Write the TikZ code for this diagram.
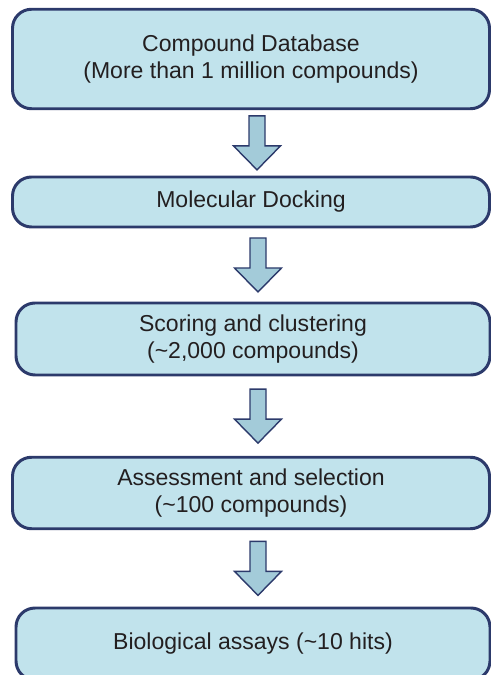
\documentclass[tikz,border=0pt]{standalone}
\usepackage{fontspec}
\setmainfont{Liberation Sans}
\usetikzlibrary{calc}
\definecolor{boxfill}{HTML}{C1E3EC}
\definecolor{boxline}{HTML}{2C3A6B}
\definecolor{arrowfill}{HTML}{A3CBD9}
\definecolor{textgray}{HTML}{231F20}
\begin{document}
\begin{tikzpicture}[
        stagebox/.style={draw=boxline, fill=boxfill, line width=1.7pt, rounded corners=0.38cm,
            align=center, text=textgray, inner sep=0pt,
            font=\fontsize{13.1pt}{15.4pt}\selectfont},
        blockarrow/.pic={
            \draw[draw=boxline, fill=arrowfill, line width=0.8pt, line join=miter]
                (-0.16,0.54) -- (-0.16,-0.06) -- (-0.47,-0.06) -- (0,-0.54)
                -- (0.47,-0.06) -- (0.16,-0.06) -- (0.16,0.54) -- cycle;}
    ]
        \clip (0,0) rectangle (9.82,13.5);

        \node [stagebox, minimum width=9.54cm, minimum height=1.99cm] (db) at (5.02,12.32)
            {Compound Database\\(More than 1 million compounds)};
        \node [stagebox, minimum width=9.54cm, minimum height=1.0cm] (dock) at (5.02,9.46)
            {Molecular Docking};
        \node [stagebox, minimum width=9.48cm, minimum height=1.44cm] (score) at (5.06,6.72)
            {Scoring and clustering\\(\textasciitilde2,000 compounds)};
        \node [stagebox, minimum width=9.54cm, minimum height=1.43cm] (assess) at (5.02,3.64)
            {Assessment and selection\\(\textasciitilde100 compounds)};
        \node [stagebox, minimum width=9.48cm, minimum height=1.44cm] (assay) at (5.06,0.62)
            {Biological assays (\textasciitilde10 hits)};

        % arrows between stages
        \pic at ($($(db.south)!0.5!(dock.north)$)+(0.12,0)$) {blockarrow};
        \pic at ($($(dock.south)!0.5!(score.north)$)+(0.12,0)$) {blockarrow};
        \pic at ($($(score.south)!0.5!(assess.north)$)+(0.12,0)$) {blockarrow};
        \pic at ($($(assess.south)!0.5!(assay.north)$)+(0.12,0)$) {blockarrow};
    \end{tikzpicture}
\end{document}
